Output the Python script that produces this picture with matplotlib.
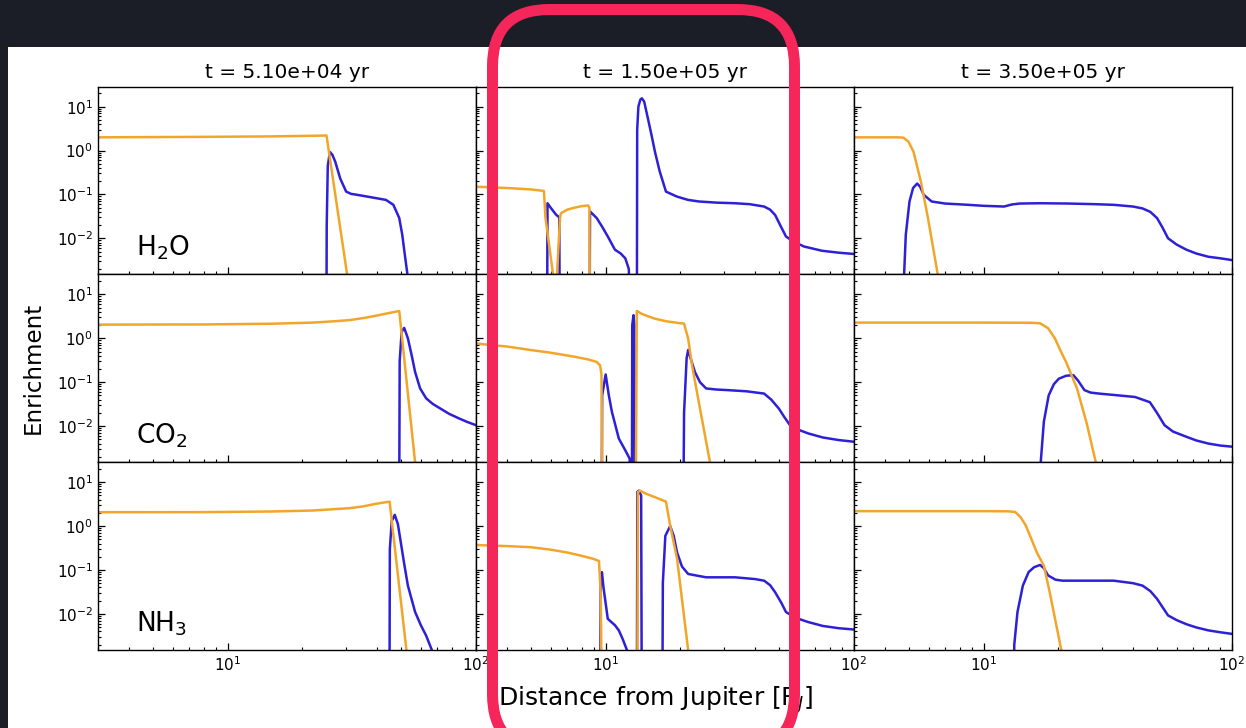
import matplotlib
matplotlib.use("Agg")
import matplotlib.pyplot as plt
from matplotlib.patches import Rectangle, FancyBboxPatch
from matplotlib.transforms import IdentityTransform

LOW = 1e-5  # below the plotted range

TIMES = ["t = 5.10e+04 yr", "t = 1.50e+05 yr", "t = 3.50e+05 yr"]
SPECIES = ["H$_2$O", "CO$_2$", "NH$_3$"]

# ---------------- H2O ----------------
H2O_T0_ICE_X = [3, 8, 15, 22, 25.0, 30.6]
H2O_T0_ICE_Y = [2.0, 2.05, 2.1, 2.17, 2.2, 1.0e-3]
H2O_T0_GAS_X = [3, 24.95, 25.05, 25.3, 25.8, 26.4, 27.1, 28.4, 30.0, 31.4, 33.2, 37.9, 43.4, 46.5,
                49.1, 50.5, 51.9, 53.5]
H2O_T0_GAS_Y = [LOW, LOW, 0.02, 0.45, 0.93, 0.8, 0.56, 0.23, 0.116, 0.103, 0.098, 0.086, 0.075, 0.058,
                0.029, 0.012, 0.0036, 1.0e-3]

H2O_T1_ICE_X = [3, 4, 5, 5.64, 5.72, 6.3, 6.55, 6.6, 7.0, 7.5, 8.0, 8.5, 8.6, 8.65]
H2O_T1_ICE_Y = [0.15, 0.14, 0.13, 0.12, 0.03, 5e-4, 0.03, 0.037, 0.045, 0.05, 0.054, 0.056, 0.05, LOW]
H2O_T1_GAS_X = [3, 5.8, 5.83, 6.0, 6.3, 6.5, 6.55, 8.6, 8.65, 9.2, 9.7, 10.2, 10.9, 11.5, 12.0, 12.4,
                12.6, 13.35, 13.4, 13.55, 13.8, 14.0, 14.3, 14.8, 15.3, 15.8, 16.5, 17.5, 19.4, 21.5,
                23.8, 28, 33.2, 38, 43.5, 46, 48.2, 50.5, 53.3, 57, 63, 74.5, 87, 100]
H2O_T1_GAS_Y = [LOW, LOW, 0.063, 0.05, 0.035, 0.03, LOW, LOW, 0.041, 0.029, 0.018, 0.011, 0.0055,
                0.0045, 0.0035, 0.002, LOW, LOW, 3.0, 10, 14.5, 15.5, 13, 5.4, 2.27, 0.94, 0.34, 0.116,
                0.089, 0.075, 0.069, 0.065, 0.063, 0.06, 0.053, 0.045, 0.034, 0.02, 0.011, 0.0085,
                0.0065, 0.0052, 0.0047, 0.0044]

H2O_T2_ICE_X = [3, 4.5, 4.75, 4.98, 5.22, 5.59, 5.97, 6.6]
H2O_T2_ICE_Y = [2.0, 2.0, 1.97, 1.6, 0.94, 0.196, 0.029, 1.1e-3]
H2O_T2_GAS_X = [3, 4.74, 4.77, 4.86, 5.03, 5.2, 5.4, 5.55, 5.74, 6.18, 7, 8.65, 10, 12.1, 13.0, 14,
                16.9, 22, 28, 33.4, 40, 43.7, 47, 50, 52.5, 55.4, 60, 65.7, 72, 80.5, 90, 100]
H2O_T2_GAS_Y = [LOW, LOW, 1e-3, 0.012, 0.069, 0.14, 0.177, 0.15, 0.098, 0.069, 0.062, 0.058, 0.055,
                0.053, 0.059, 0.062, 0.063, 0.062, 0.06, 0.058, 0.053, 0.048, 0.04, 0.029, 0.018,
                0.010, 0.0072, 0.0055, 0.0045, 0.0038, 0.0035, 0.0032]

# ---------------- CO2 ----------------
CO2_T0_ICE_X = [3, 8, 15, 22, 27, 31, 36, 40.6, 45, 49.1, 57.2]
CO2_T0_ICE_Y = [2.05, 2.07, 2.15, 2.28, 2.45, 2.6, 2.95, 3.37, 3.8, 4.2, 1.1e-3]
CO2_T0_GAS_X = [3, 49.0, 49.3, 50.2, 51.4, 53.2, 55.1, 56.9, 59.6, 63, 67, 72, 78, 85.4, 92, 100]
CO2_T0_GAS_Y = [LOW, LOW, 0.3, 1.4, 1.73, 1.0, 0.41, 0.17, 0.072, 0.043, 0.032, 0.025, 0.019, 0.015,
                0.0125, 0.0105]

CO2_T1_ICE_X = [3, 4, 5, 6, 7.5, 8.5, 9.2, 9.5, 9.62, 9.75, 13.2, 13.35, 14, 15, 15.8, 17.5, 19.5,
                20.7, 21.5, 22.3, 24, 26.6]
CO2_T1_ICE_Y = [0.76, 0.65, 0.54, 0.47, 0.38, 0.33, 0.29, 0.24, 0.15, LOW, LOW, 4.2, 3.6, 3.1, 2.8,
                2.45, 2.25, 2.16, 0.99, 0.24, 0.025, 1.1e-3]
CO2_T1_GAS_X = [3, 9.62, 9.68, 10.0, 10.3, 10.6, 11.3, 12.0, 12.5, 12.7, 12.75, 12.8, 12.95, 13.05,
                13.1, 20.5, 20.7, 21.2, 21.5, 22, 22.9, 24, 25.4, 28, 31, 37, 43.5, 46.5, 49.9, 52.5,
                55.3, 60, 65.5, 75, 87, 100]
CO2_T1_GAS_Y = [LOW, LOW, 0.05, 0.15, 0.05, 0.021, 0.0052, 0.0028, 0.0018, LOW, LOW, 2.0, 3.37, 2.0,
                LOW, LOW, 0.02, 0.35, 0.54, 0.35, 0.17, 0.1, 0.072, 0.068, 0.066, 0.062, 0.055, 0.04,
                0.025, 0.016, 0.0105, 0.0082, 0.0068, 0.0055, 0.0048, 0.0044]

CO2_T2_ICE_X = [3, 10, 15.5, 16.9, 18.2, 19.4, 20.5, 21.5, 23.8, 26, 28.6]
CO2_T2_ICE_Y = [2.28, 2.28, 2.26, 2.2, 1.7, 0.99, 0.5, 0.29, 0.072, 0.012, 1.2e-3]
CO2_T2_GAS_X = [3, 16.8, 17.0, 17.5, 18.3, 19.2, 20.1, 21.5, 23, 24, 25.5, 27, 29.2, 35, 40.8, 46.8,
                50, 53.6, 58, 65.7, 72, 80.5, 90, 100]
CO2_T2_GAS_Y = [LOW, LOW, 0.0015, 0.0126, 0.05, 0.09, 0.12, 0.14, 0.145, 0.11, 0.066, 0.058, 0.055,
                0.05, 0.046, 0.035, 0.02, 0.0105, 0.0075, 0.0057, 0.0047, 0.004, 0.0036, 0.0034]

# ---------------- NH3 ----------------
NH3_T0_ICE_X = [3, 8, 15, 22, 31, 35, 39.3, 42, 44.9, 52.8]
NH3_T0_ICE_Y = [2.07, 2.08, 2.15, 2.26, 2.56, 2.8, 3.2, 3.4, 3.6, 1.1e-3]
NH3_T0_GAS_X = [3, 44.8, 45.0, 45.8, 47.1, 48.5, 49.8, 51.5, 53.2, 56.9, 60, 63, 67.5]
NH3_T0_GAS_Y = [LOW, LOW, 0.3, 1.3, 1.8, 1.1, 0.43, 0.13, 0.044, 0.011, 0.0055, 0.0032, 1.2e-3]

NH3_T1_ICE_X = [3, 4, 5, 6, 7, 8, 8.9, 9.4, 9.55, 9.7, 13.4, 13.5, 13.8, 14.5, 15.8, 17.5, 18.2, 19.4,
                21.6]
NH3_T1_ICE_Y = [0.37, 0.35, 0.33, 0.29, 0.25, 0.21, 0.18, 0.16, 0.03, LOW, LOW, 6.0, 6.4, 5.5, 4.56,
                3.6, 1.03, 0.18, 1.2e-3]
NH3_T1_GAS_X = [3, 9.5, 9.55, 9.66, 9.8, 10.2, 10.9, 11.3, 11.7, 12.3, 12.5, 13.35, 13.42, 13.6, 13.9,
                14.0, 16.9, 17.0, 17.4, 18.2, 18.8, 19.4, 20.3, 21.5, 25.4, 33.2, 40, 43.5, 46, 48.2,
                51, 53.3, 58, 65.5, 75, 87, 100]
NH3_T1_GAS_Y = [LOW, LOW, 0.05, 0.089, 0.04, 0.0077, 0.0055, 0.0042, 0.0027, 0.0013, 5e-4, LOW, 6.0,
                6.4, 5.0, LOW, LOW, 0.05, 0.6, 1.0, 0.6, 0.25, 0.12, 0.081, 0.068, 0.068, 0.062,
                0.057, 0.045, 0.031, 0.018, 0.011, 0.0082, 0.0065, 0.0053, 0.0047, 0.0044]

NH3_T2_ICE_X = [3, 10, 12.5, 13.4, 14.1, 14.8, 15.6, 16.4, 17.5, 18.5, 20.8]
NH3_T2_ICE_Y = [2.19, 2.19, 2.17, 2.1, 1.6, 1.03, 0.5, 0.25, 0.125, 0.03, 1.1e-3]
NH3_T2_GAS_X = [3, 13.1, 13.3, 13.7, 14.4, 15.2, 16.0, 16.9, 17.5, 18.2, 19.5, 20.8, 25, 33.4, 40,
                43.7, 47, 50, 55.4, 60, 65.7, 72, 80.5, 90, 100]
NH3_T2_GAS_Y = [LOW, LOW, 0.002, 0.011, 0.044, 0.09, 0.116, 0.13, 0.11, 0.075, 0.06, 0.057, 0.057,
                0.057, 0.05, 0.044, 0.033, 0.022, 0.0092, 0.0072, 0.0058, 0.0049, 0.0042, 0.0038,
                0.0035]

ICE = [
    [(H2O_T0_ICE_X, H2O_T0_ICE_Y), (H2O_T1_ICE_X, H2O_T1_ICE_Y), (H2O_T2_ICE_X, H2O_T2_ICE_Y)],
    [(CO2_T0_ICE_X, CO2_T0_ICE_Y), (CO2_T1_ICE_X, CO2_T1_ICE_Y), (CO2_T2_ICE_X, CO2_T2_ICE_Y)],
    [(NH3_T0_ICE_X, NH3_T0_ICE_Y), (NH3_T1_ICE_X, NH3_T1_ICE_Y), (NH3_T2_ICE_X, NH3_T2_ICE_Y)],
]
GAS = [
    [(H2O_T0_GAS_X, H2O_T0_GAS_Y), (H2O_T1_GAS_X, H2O_T1_GAS_Y), (H2O_T2_GAS_X, H2O_T2_GAS_Y)],
    [(CO2_T0_GAS_X, CO2_T0_GAS_Y), (CO2_T1_GAS_X, CO2_T1_GAS_Y), (CO2_T2_GAS_X, CO2_T2_GAS_Y)],
    [(NH3_T0_GAS_X, NH3_T0_GAS_Y), (NH3_T1_GAS_X, NH3_T1_GAS_Y), (NH3_T2_GAS_X, NH3_T2_GAS_Y)],
]

W, H = 1246, 728
BLUE = "#2d20d6"
ORANGE = "#f2a629"

fig = plt.figure(figsize=(W / 100, H / 100), dpi=100, facecolor="#1b1e26")
fig.add_artist(Rectangle((8, 0), W - 8, H - 47, transform=IdentityTransform(),
                         facecolor="white", edgecolor="none", zorder=-10))

axes = fig.subplots(3, 3, sharex=True, sharey=True,
                    gridspec_kw=dict(left=98 / W, right=1231.7 / W, top=1 - 86.7 / H,
                                     bottom=1 - 650 / H, wspace=0, hspace=0))

for i in range(3):
    for j in range(3):
        ax = axes[i, j]
        ax.set_xscale("log")
        ax.set_yscale("log")
        gx, gy = GAS[i][j]
        ix, iy = ICE[i][j]
        ax.plot(gx, gy, color=BLUE, lw=1.8, solid_joinstyle="round")
        ax.plot(ix, iy, color=ORANGE, lw=1.8, solid_joinstyle="round")
        ax.set_xlim(3, 100)
        ax.set_ylim(1.5e-3, 28.5)
        ax.tick_params(which="both", direction="in", top=False, right=False, labelsize=11)
        ax.tick_params(which="major", length=5, width=0.9)
        ax.tick_params(which="minor", length=2.5, width=0.8)
        for s in ax.spines.values():
            s.set_linewidth(1.0)
        if i == 0:
            ax.set_title(TIMES[j], fontsize=14.5)
        if j == 0:
            ax.text(0.1, 0.1, SPECIES[i], transform=ax.transAxes, fontsize=19,
                    ha="left", va="baseline")

fig.text(33 / W, 1 - 368 / H, "Enrichment", rotation=90, ha="center", va="center", fontsize=16.5)
fig.text(656 / W, 1 - 706 / H, "Distance from Jupiter [R$_J$]", ha="center", va="baseline",
         fontsize=18)

box = FancyBboxPatch((492.5, -23), 302, 741.5, boxstyle="round,pad=0,rounding_size=57",
                     transform=IdentityTransform(), fill=False, edgecolor="#f4265a",
                     linewidth=11 * 72 / 100, zorder=20, clip_on=False)
fig.add_artist(box)

fig.savefig("out.png", dpi=100, facecolor=fig.get_facecolor())
